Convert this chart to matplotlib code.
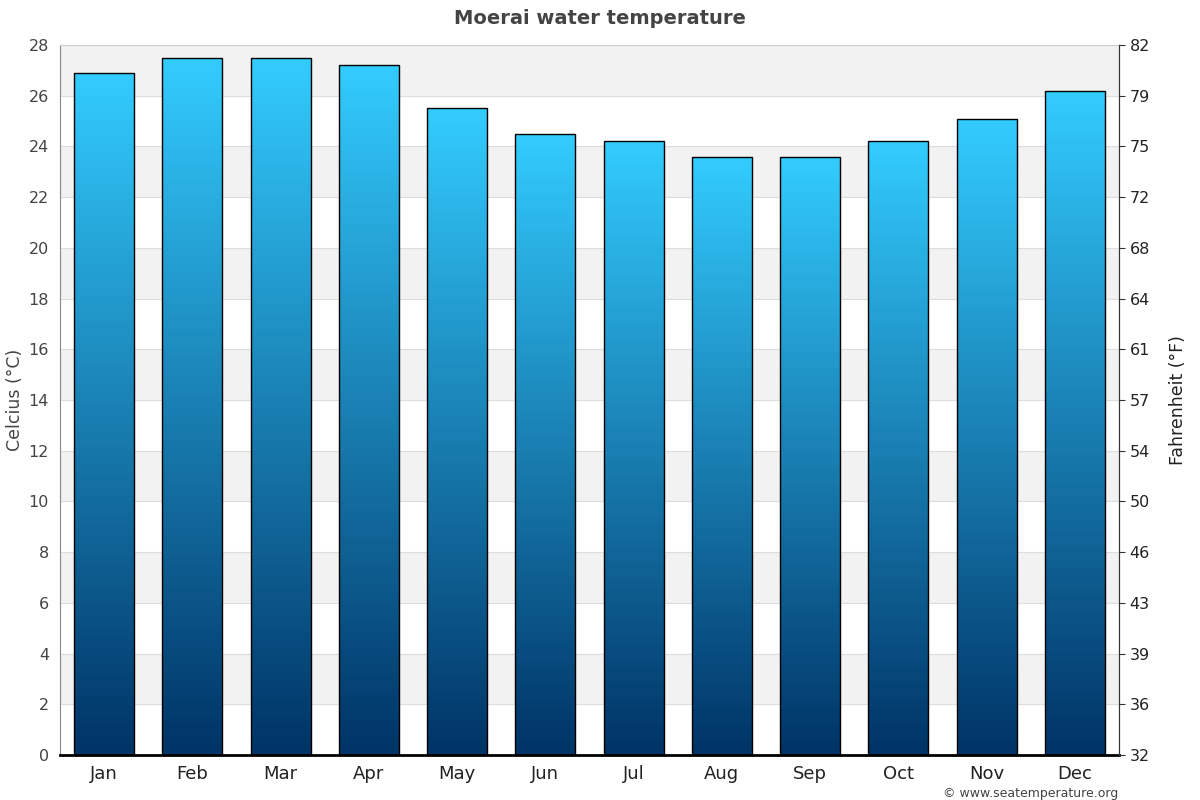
import numpy as np
import matplotlib
matplotlib.use("Agg")
import matplotlib.pyplot as plt
from matplotlib.colors import LinearSegmentedColormap

months = ["Jan", "Feb", "Mar", "Apr", "May", "Jun", "Jul", "Aug", "Sep", "Oct", "Nov", "Dec"]
water_temp_c = [26.9, 27.5, 27.5, 27.2, 25.5, 24.5, 24.2, 23.6, 23.6, 24.2, 25.1, 26.2]
c_ticks = list(range(0, 29, 2))

fig = plt.figure(figsize=(12, 8), dpi=100)
ax = fig.add_axes([0.05, 0.05625, 0.8825, 0.8875])

ymax = 28

# alternating background bands
for lo in range(2, ymax, 4):
    ax.axhspan(lo, lo + 2, color="#f2f2f2", zorder=0, lw=0)
for t in c_ticks[1:-1]:
    ax.axhline(t, color="#dddddd", lw=0.8, zorder=0.5)

cmap = LinearSegmentedColormap.from_list("sea", ["#003366", "#33ccff"])
grad = np.linspace(0, 1, 256).reshape(-1, 1)
width = 0.68
bars = ax.bar(range(len(months)), water_temp_c, width=width, facecolor="none",
              edgecolor="black", linewidth=1, zorder=3)
for i, (b, v) in enumerate(zip(bars, water_temp_c)):
    im = ax.imshow(grad, cmap=cmap, origin="lower", aspect="auto",
                   extent=[i - width / 2, i + width / 2, 0, v], zorder=2)
    im.set_clip_path(b)
ax.set_xlim(-0.5, len(months) - 0.5)
ax.set_ylim(0, ymax)

ax.set_xticks(range(len(months)))
ax.set_xticklabels(months, fontsize=13, color="#222222")
ax.set_yticks(c_ticks)
ax.tick_params(axis="y", labelsize=11.5, labelcolor="#444444", length=0, pad=8)
ax.tick_params(axis="x", length=0, pad=7)
ax.set_ylabel("Celcius (°C)", fontsize=12.5, color="#444444", labelpad=3)

ax.spines["left"].set_color("#888888")
ax.spines["top"].set_color("#cccccc")
ax.spines["right"].set_color("#333333")
ax.spines["bottom"].set_color("black")
ax.spines["bottom"].set_linewidth(2)

ax2 = ax.twinx()
ax2.set_ylim(0, ymax)
ax2.set_yticks(c_ticks)
ax2.set_yticklabels([f"{round(c * 9 / 5 + 32)}" for c in c_ticks])
ax2.tick_params(axis="y", labelsize=11.5, labelcolor="#222222", length=4, color="#333333")
ax2.set_ylabel("Fahrenheit (°F)", fontsize=12.5, color="#222222", labelpad=14)
for s in ["left", "top", "bottom"]:
    ax2.spines[s].set_visible(False)
ax2.spines["right"].set_color("#333333")

fig.text(0.5, 0.977, "Moerai water temperature", ha="center", va="center",
         fontsize=14, fontweight="bold", color="#444444")
fig.text(0.932, 0.0, "© www.seatemperature.org", ha="right", va="bottom",
         fontsize=9, color="#444444")

fig.savefig("out.png", dpi=100)
